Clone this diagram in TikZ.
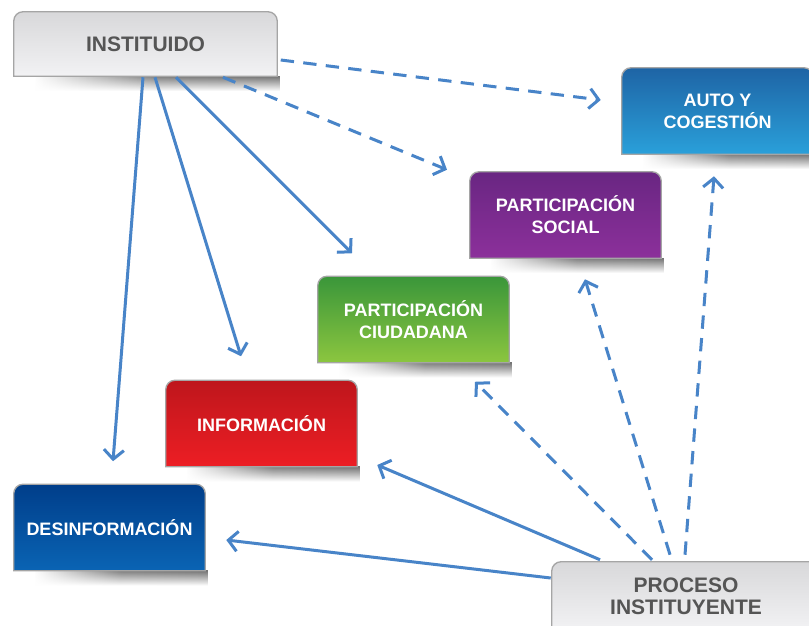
\documentclass[tikz,border=0pt]{standalone}
\usepackage{fontspec}
\setmainfont{Liberation Sans}
\usetikzlibrary{arrows.meta,calc,fadings}
\pgfdeclarelayer{background}
\pgfsetlayers{background,main}
\definecolor{arrowblue}{RGB}{72,132,200}
\definecolor{boxborder}{RGB}{165,165,165}
\definecolor{graytxt}{RGB}{85,85,85}
\definecolor{graytop}{RGB}{216,216,218}
\definecolor{graybot}{RGB}{242,242,244}
\definecolor{autotop}{RGB}{30,100,165}
\definecolor{autobot}{RGB}{42,160,218}
\definecolor{soctop}{RGB}{105,38,130}
\definecolor{socbot}{RGB}{140,48,155}
\definecolor{ciutop}{RGB}{58,150,58}
\definecolor{ciubot}{RGB}{140,198,63}
\definecolor{inftop}{RGB}{190,22,28}
\definecolor{infbot}{RGB}{237,30,36}
\definecolor{destop}{RGB}{0,62,138}
\definecolor{desbot}{RGB}{10,100,180}
\tikzfading[name=shfade, top color=transparent!10, bottom color=transparent!100]
\tikzset{
  x=0.75pt, y=-0.75pt,
  boxtext/.style={inner sep=0pt, align=center, font=\bfseries\fontsize{13.5}{16.5}\selectfont},
  graytext/.style={font=\bfseries\fontsize{15.75}{16.5}\selectfont},
  conn/.style={draw=arrowblue, line width=2.25pt, -{Straight Barb[length=7pt,width=15pt]}},
  dconn/.style={conn, dash pattern=on 10pt off 7pt},
}
% #1 name, #2 cx, #3 cy, #4 w, #5 h, #6 top colour, #7 bottom colour, #8 text style, #9 text
\newcommand\mybox[9]{%
  \node[boxtext, #8, minimum width=#4*0.75pt, minimum height=#5*0.75pt] (#1) at (#2,#3) {#9};
  \begin{pgfonlayer}{background}
    \shade[left color=white, right color=black!60, middle color=black!55, path fading=shfade]
      ([xshift=15pt]#1.south west) rectangle ([xshift=2pt,yshift=-11pt]#1.south east);
    \shade[top color=#6, bottom color=#7, draw=boxborder, line width=1pt]
      (#1.south west) [rounded corners=7pt] -- (#1.north west) -- (#1.north east)
      [sharp corners] -- (#1.south east) -- cycle;
  \end{pgfonlayer}
}
\begin{document}
\begin{tikzpicture}
\useasboundingbox (0,0) rectangle (809,625);
\clip (0,0) rectangle (809,625);
\begin{pgfonlayer}{background}
\fill[white] (0,0) rectangle (809,625);
\end{pgfonlayer}

\mybox{inst}{145.5}{44}{263}{64}{graytop}{graybot}{graytext, text=graytxt}{INSTITUIDO}
\mybox{auto}{717.5}{111}{191}{86}{autotop}{autobot}{text=white}{AUTO Y\\COGESTIÓN}
\mybox{psoc}{565.5}{215}{191}{86}{soctop}{socbot}{text=white}{PARTICIPACIÓN\\SOCIAL}
\mybox{pciu}{413.5}{319.5}{191}{86}{ciutop}{ciubot}{text=white}{PARTICIPACIÓN\\CIUDADANA}
\mybox{info}{261.5}{423.5}{191}{86}{inftop}{infbot}{text=white}{INFORMACIÓN}
\mybox{desinf}{109.5}{527.5}{191}{86}{destop}{desbot}{text=white}{DESINFORMACIÓN}
\mybox{proc}{686}{596}{268}{68}{graytop}{graybot}{graytext, text=graytxt}{PROCESO\\INSTITUYENTE}

% from INSTITUIDO
\draw[conn] ($(inst.south)+(-2.5,1)$) -- ($(desinf.north)+(3.5,-23)$);
\draw[conn] ($(inst.south)+(9.5,1)$) -- ($(info.north)+(-20.5,-24)$);
\draw[conn] ($(inst.south)+(30.5,1)$) -- ($(pciu.north)+(-61.5,-23)$);
\draw[dconn] ($(inst.south)+(77.5,1)$) -- ($(psoc.north)+(-118.5,-2)$);
\draw[dconn] ($(inst.east)+(3.5,16)$) -- ($(auto.west)+(-21,-11)$);

% from PROCESO INSTITUYENTE
\draw[conn] ($(proc.west)+(-1,-18)$) -- ($(desinf.east)+(21,12.5)$);
\draw[conn] ($(proc.north)+(-86,-2)$) -- ($(info.east)+(20,41.5)$);
\draw[dconn] ($(proc.north)+(-34,-2)$) -- ($(pciu.south)+(61.5,19)$);
\draw[dconn] ($(proc.north)+(-16,-7)$) -- ($(psoc.south)+(19.5,21)$);
\draw[dconn] ($(proc.north)+(-1,-7)$) -- ($(auto.south)+(-3.5,22)$);
\end{tikzpicture}
\end{document}
